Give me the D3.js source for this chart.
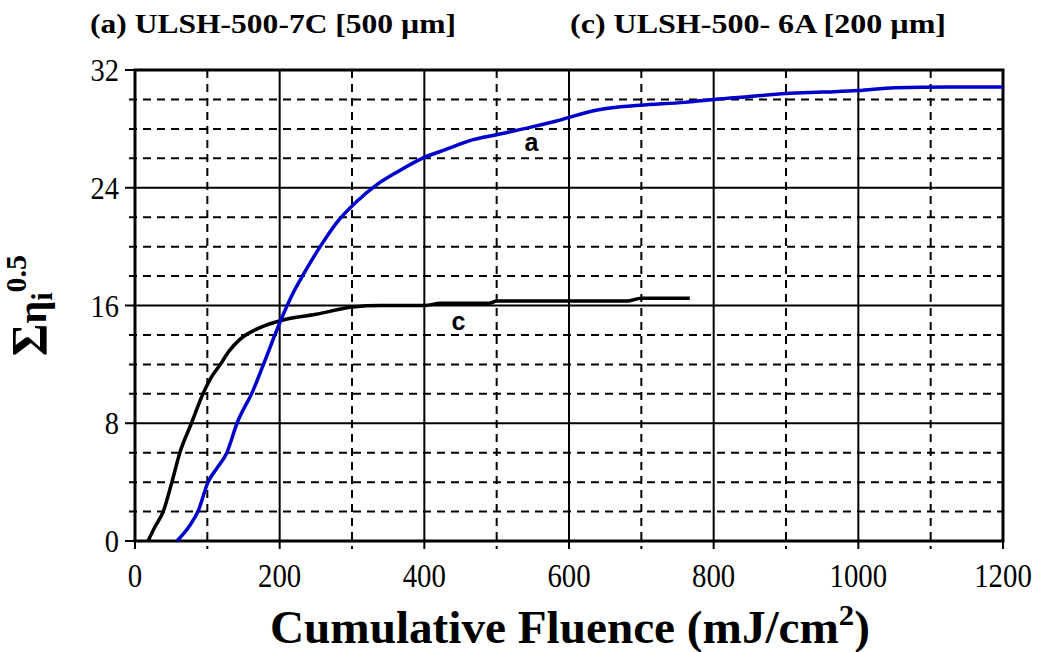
<!DOCTYPE html>
<html>
<head>
<meta charset="utf-8">
<script src="https://cdn.jsdelivr.net/npm/d3@7"></script>
<style>
  body { margin: 0; background: #fff; }
  svg text { font-family: 'Liberation Serif', 'DejaVu Serif', serif; }
  svg text.sans { font-family: 'Liberation Sans', Arial, sans-serif; }
</style>
</head>
<body>
<svg id="chart" width="1041" height="652"></svg>
<script>
// Curve (a) ULSH-500-7C [500 um] : [fluence, sum]
const fluenceA = [58, 75, 87, 101, 114, 127, 141, 163, 180, 195, 205, 215, 235, 256, 280, 305, 334, 360, 397, 430, 463, 500, 546, 580, 641, 698, 760, 800, 850, 900, 950, 1000, 1050, 1127, 1200];
const sumA     = [0, 1, 2, 4, 5, 6, 8, 10.2, 12.3, 14.2, 15.4, 16.5, 18.3, 20, 21.7, 23, 24.2, 25, 26, 26.6, 27.2, 27.6, 28.1, 28.5, 29.3, 29.6, 29.8, 30, 30.2, 30.4, 30.5, 30.6, 30.8, 30.85, 30.85];

// Curve (c) ULSH-500-6A [200 um]
const fluenceC = [18, 28, 39, 51, 62, 78, 94, 104, 118, 130, 145, 173, 203, 250, 301, 339, 401, 422, 490, 500, 680, 700, 767];
const sumC     = [0, 1, 2, 4, 6, 8, 10, 11, 12, 12.9, 13.7, 14.5, 15.0, 15.4, 15.9, 16.0, 16.0, 16.15, 16.15, 16.3, 16.3, 16.5, 16.5];

const xTicks = [0, 200, 400, 600, 800, 1000, 1200];
const yTicks = [0, 8, 16, 24, 32];
const xMinor = d3.range(100, 1200, 200);
const yMinor = d3.range(0, 32, 2).filter(v => v % 8 !== 0);

const margin = { top: 70, right: 38, bottom: 111, left: 135 };
const W = 1041, H = 652;
const iw = W - margin.left - margin.right;
const ih = H - margin.top - margin.bottom;

const svg = d3.select("#chart");
const g = svg.append("g").attr("transform", `translate(${margin.left},${margin.top})`);

const x = d3.scaleLinear().domain([0, 1200]).range([0, iw]);
const y = d3.scaleLinear().domain([0, 32]).range([ih, 0]);

// dashed minor grid
g.selectAll(".vminor").data(xMinor).join("line")
  .attr("x1", d => x(d)).attr("x2", d => x(d)).attr("y1", 0).attr("y2", ih + 8)
  .attr("stroke", "#000").attr("stroke-width", 2).attr("stroke-dasharray", "8,6");
g.selectAll(".hminor").data(yMinor).join("line")
  .attr("x1", -6).attr("x2", iw).attr("y1", d => y(d)).attr("y2", d => y(d))
  .attr("stroke", "#000").attr("stroke-width", 2).attr("stroke-dasharray", "8,6");

// solid major grid
g.selectAll(".vmajor").data(xTicks).join("line")
  .attr("x1", d => x(d)).attr("x2", d => x(d)).attr("y1", 0).attr("y2", ih + 8)
  .attr("stroke", "#000").attr("stroke-width", 2);
g.selectAll(".hmajor").data(yTicks).join("line")
  .attr("x1", -10).attr("x2", iw).attr("y1", d => y(d)).attr("y2", d => y(d))
  .attr("stroke", "#000").attr("stroke-width", 2);

// frame
g.append("rect").attr("x", 0).attr("y", 0).attr("width", iw).attr("height", ih)
  .attr("fill", "none").attr("stroke", "#000").attr("stroke-width", 3);

// tick labels (narrow, tall serif digits)
g.selectAll(".xl").data(xTicks).join("text")
  .attr("x", d => x(d) - String(d).length * 7.2).attr("y", ih + 46)
  .attr("font-size", 33)
  .attr("textLength", d => String(d).length * 14.4).attr("lengthAdjust", "spacingAndGlyphs")
  .text(d => d);
g.selectAll(".yl").data(yTicks).join("text")
  .attr("x", d => -16 - String(d).length * 14.2).attr("y", d => y(d) + 11)
  .attr("font-size", 32)
  .attr("textLength", d => String(d).length * 14.2).attr("lengthAdjust", "spacingAndGlyphs")
  .text(d => d);

// curves
const line = d3.line().x(d => x(d[0])).y(d => y(d[1])).curve(d3.curveMonotoneX);
g.append("path").datum(d3.zip(fluenceC, sumC)).attr("d", line)
  .attr("fill", "none").attr("stroke", "#000").attr("stroke-width", 3.5);
g.append("path").datum(d3.zip(fluenceA, sumA)).attr("d", line)
  .attr("fill", "none").attr("stroke", "#0000cc").attr("stroke-width", 3.5);

// curve labels
g.append("text").attr("class", "sans").attr("x", x(548)).attr("y", y(27.6) + 16)
  .attr("font-weight", "bold").attr("font-size", 25).attr("text-anchor", "middle").text("a");
g.append("text").attr("class", "sans").attr("x", x(447)).attr("y", y(16) + 24)
  .attr("font-weight", "bold").attr("font-size", 25).attr("text-anchor", "middle").text("c");

// titles
svg.append("text").attr("x", 90).attr("y", 33)
  .attr("font-weight", "bold").attr("font-size", 27)
  .attr("textLength", 366).attr("lengthAdjust", "spacingAndGlyphs")
  .text("(a) ULSH-500-7C [500 µm]");
svg.append("text").attr("x", 570).attr("y", 33)
  .attr("font-weight", "bold").attr("font-size", 27)
  .attr("textLength", 376).attr("lengthAdjust", "spacingAndGlyphs")
  .text("(c) ULSH-500- 6A [200 µm]");

// x axis title
const xt = svg.append("text").attr("x", 270).attr("y", 643)
  .attr("font-weight", "bold").attr("font-size", 46)
  .attr("textLength", 600).attr("lengthAdjust", "spacingAndGlyphs");
xt.append("tspan").text("Cumulative Fluence (mJ/cm");
xt.append("tspan").attr("dy", -18).attr("font-size", 30).text("2");
xt.append("tspan").attr("dy", 18).text(")");

// y axis title
const yt = svg.append("text").attr("transform", `translate(46,${margin.top + ih / 2}) rotate(-90)`)
  .attr("text-anchor", "middle").attr("font-weight", "bold").attr("font-size", 50);
yt.append("tspan").text("Σ");
yt.append("tspan").attr("font-size", 40).text("η");
yt.append("tspan").attr("dy", 6).attr("font-size", 30).text("i");
yt.append("tspan").attr("dy", -26).attr("font-size", 30).text("0.5");
</script>
</body>
</html>
